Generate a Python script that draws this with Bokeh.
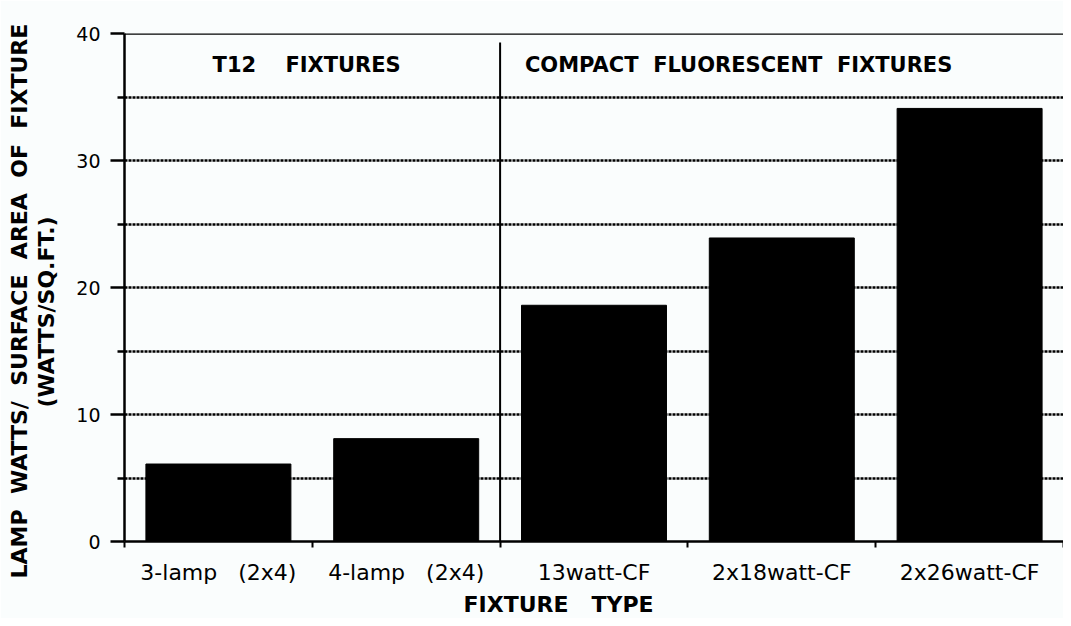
from bokeh.plotting import figure
from bokeh.models import FixedTicker, Span, Range1d, Title
from bokeh.embed import file_html
from bokeh.resources import INLINE
from bokeh.core.properties import value

NB = "\u00a0"

# ---------------- data ----------------
fixtures = ["3-lamp" + NB * 3 + "(2x4)", "4-lamp" + NB * 3 + "(2x4)",
            "13watt-CF", "2x18watt-CF", "2x26watt-CF"]
watts_per_sqft = [6.1, 8.1, 18.6, 23.9, 34.1]
groups = ["T12" + NB * 4 + "FIXTURES",
          "COMPACT" + NB * 2 + "FLUORESCENT" + NB * 2 + "FIXTURES"]
group_sizes = [2, 3]
y_major = [0, 10, 20, 30, 40]
y_minor = [5, 15, 25, 35]
y_title_1 = NB.join(["LAMP", "", "WATTS/", "", "SURFACE", "", "AREA", "", "OF", "", "FIXTURE"])
y_title_2 = "(WATTS/SQ.FT.)"
x_title = "FIXTURE" + NB * 3 + "TYPE"

# ---------------- layout ----------------
FONT = "DejaVu Sans"
BG = "#fafdfd"
n = len(fixtures)
xs = [i + 0.5 for i in range(n)]

p = figure(width=1063, height=618, output_backend="svg", toolbar_location=None,
           x_range=Range1d(0, n), y_range=Range1d(y_major[0], y_major[-1]),
           min_border_left=124, min_border_right=0, min_border_top=33, min_border_bottom=77,
           background_fill_color=BG, border_fill_color=BG, outline_line_color=None)

# grid lines every 5 between the ends
p.xgrid.visible = False
p.ygrid.ticker = FixedTicker(ticks=sorted(t for t in y_major + y_minor
                                          if y_major[0] < t < y_major[-1]))
p.ygrid.grid_line_color = "black"
p.ygrid.grid_line_width = 2.5
p.ygrid.grid_line_dash = "3 1"

# bars
p.vbar(x=xs, top=watts_per_sqft, bottom=0, width=0.772,
       fill_color="black", line_color="black")

# top border line
p.add_layout(Span(location=y_major[-1], dimension="width",
                  line_color="black", line_width=2.5))

# group separator
sep = group_sizes[0]
p.segment(x0=[sep], y0=[0], x1=[sep], y1=[39.3], line_color="black", line_width=2)

# group headers
header_x = [0.97, 3.27]
p.text(x=header_x, y=[37.5, 37.5], text=groups, text_align="center",
       text_baseline="middle", text_font=value(FONT), text_font_style="bold",
       text_font_size="21px", text_color="black")

# y axis
ya = p.yaxis[0]
ya.ticker = FixedTicker(ticks=y_major, minor_ticks=y_minor)
ya.axis_line_width = 2.5
ya.major_tick_out = 14
ya.major_tick_in = 0
ya.minor_tick_out = 7
ya.minor_tick_in = 0
ya.major_tick_line_width = 2.5
ya.minor_tick_line_width = 2.5
ya.major_label_text_font = FONT
ya.major_label_text_font_size = "19px"
ya.major_label_text_color = "black"
ya.major_label_standoff = 10
# small spacer between tick labels and the axis titles
ya.axis_label = NB
ya.axis_label_text_font_size = "1px"
ya.axis_label_standoff = 11

# x axis
xa = p.xaxis[0]
xa.ticker = FixedTicker(ticks=xs, minor_ticks=list(range(n + 1)))
xa.major_label_overrides = {x: name for x, name in zip(xs, fixtures)}
xa.axis_line_width = 2.5
xa.major_tick_line_color = None
xa.major_tick_out = 0
xa.major_tick_in = 0
xa.minor_tick_out = 6
xa.minor_tick_in = 0
xa.minor_tick_line_width = 2
xa.major_label_text_font = FONT
xa.major_label_text_font_size = "22px"
xa.major_label_text_color = "black"
xa.major_label_standoff = 12

# axis titles
tstyle = dict(text_font=FONT, text_font_style="bold", text_font_size="22px",
              text_color="black", align="left")
p.add_layout(Title(text=y_title_2, offset=134, standoff=0, **tstyle), "left")
p.add_layout(Title(text=y_title_1, offset=-37, standoff=0, **tstyle), "left")
p.add_layout(Title(text=x_title, offset=339, standoff=4, **tstyle), "below")

open("out.html", "w").write(file_html(p, INLINE))
